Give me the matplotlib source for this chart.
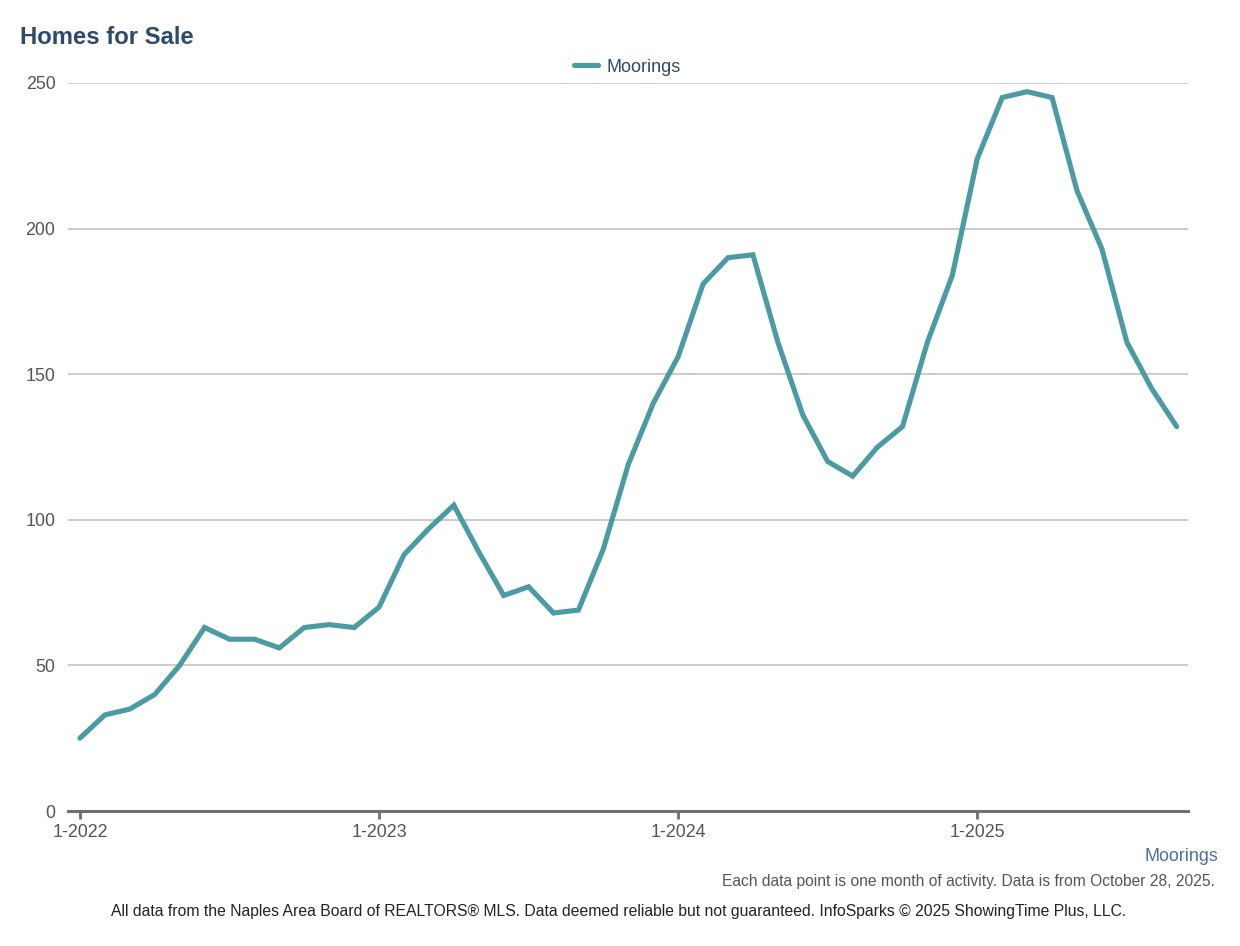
import matplotlib.pyplot as plt

plt.rcParams['font.family'] = ['Liberation Sans', 'DejaVu Sans']

# monthly homes for sale, 1-2022 .. 9-2025
months = list(range(45))
values = [25, 33, 35, 40, 50, 63, 59, 59, 56, 63, 64, 63,
          70, 88, 97, 105, 89, 74, 77, 68, 69, 90, 119, 140,
          156, 181, 190, 191, 161, 136, 120, 115, 125, 132, 161, 184,
          224, 245, 247, 245, 213, 193, 161, 145, 132]
tick_pos = [0, 12, 24, 36]
tick_labels = ["1-2022", "1-2023", "1-2024", "1-2025"]
y_ticks = [0, 50, 100, 150, 200, 250]

fig = plt.figure(figsize=(12.4, 9.46), dpi=100)
ax = fig.add_axes([0.0548, 0.1427, 0.903, 0.7696])

ax.plot(months, values, color="#4A9BA3", linewidth=3.7, label="Moorings",
        solid_joinstyle="miter", solid_capstyle="round", zorder=3)

ax.set_xlim(-0.48, 44.44)
ax.set_ylim(0, 250)
ax.set_yticks(y_ticks)
ax.set_xticks(tick_pos)
ax.set_xticklabels(tick_labels)
ax.grid(axis="y", color="#C4C4C4", linewidth=1.2)
ax.set_axisbelow(True)

for s in ["top", "right", "left"]:
    ax.spines[s].set_visible(False)
ax.spines["bottom"].set_color("#707070")
ax.spines["bottom"].set_linewidth(2.2)
ax.spines["bottom"].set_zorder(4)

ax.tick_params(axis="x", length=6, width=2, color="#707070", labelsize=12.9,
               labelcolor="#555555", pad=3)
ax.tick_params(axis="y", length=0, labelsize=12.9, labelcolor="#555555", pad=9)

leg = ax.legend(loc="lower center", bbox_to_anchor=(0.5, 1.0), frameon=False,
                fontsize=13, handlelength=1.3, handletextpad=0.5,
                borderaxespad=0.0)
for t in leg.get_texts():
    t.set_color("#2E4A6B")

fig.text(20 / 1240, 1 - 37 / 946, "Homes for Sale", fontsize=17.2,
         fontweight="bold", color="#2E4A6B", va="center", ha="left")
fig.text(1218 / 1240, 1 - 856 / 946, "Moorings", fontsize=12.9,
         color="#4A6FA5", va="center", ha="right")
fig.text(1215 / 1240, 1 - 881 / 946,
         "Each data point is one month of activity. Data is from October 28, 2025.",
         fontsize=11.25, color="#555555", va="center", ha="right")
fig.text(619 / 1240, 1 - 911 / 946,
         "All data from the Naples Area Board of REALTORS\u00ae MLS. Data deemed reliable but not guaranteed. InfoSparks \u00a9 2025 ShowingTime Plus, LLC.",
         fontsize=11.3, color="#222222", va="center", ha="center")

fig.savefig("out.png", dpi=100)
